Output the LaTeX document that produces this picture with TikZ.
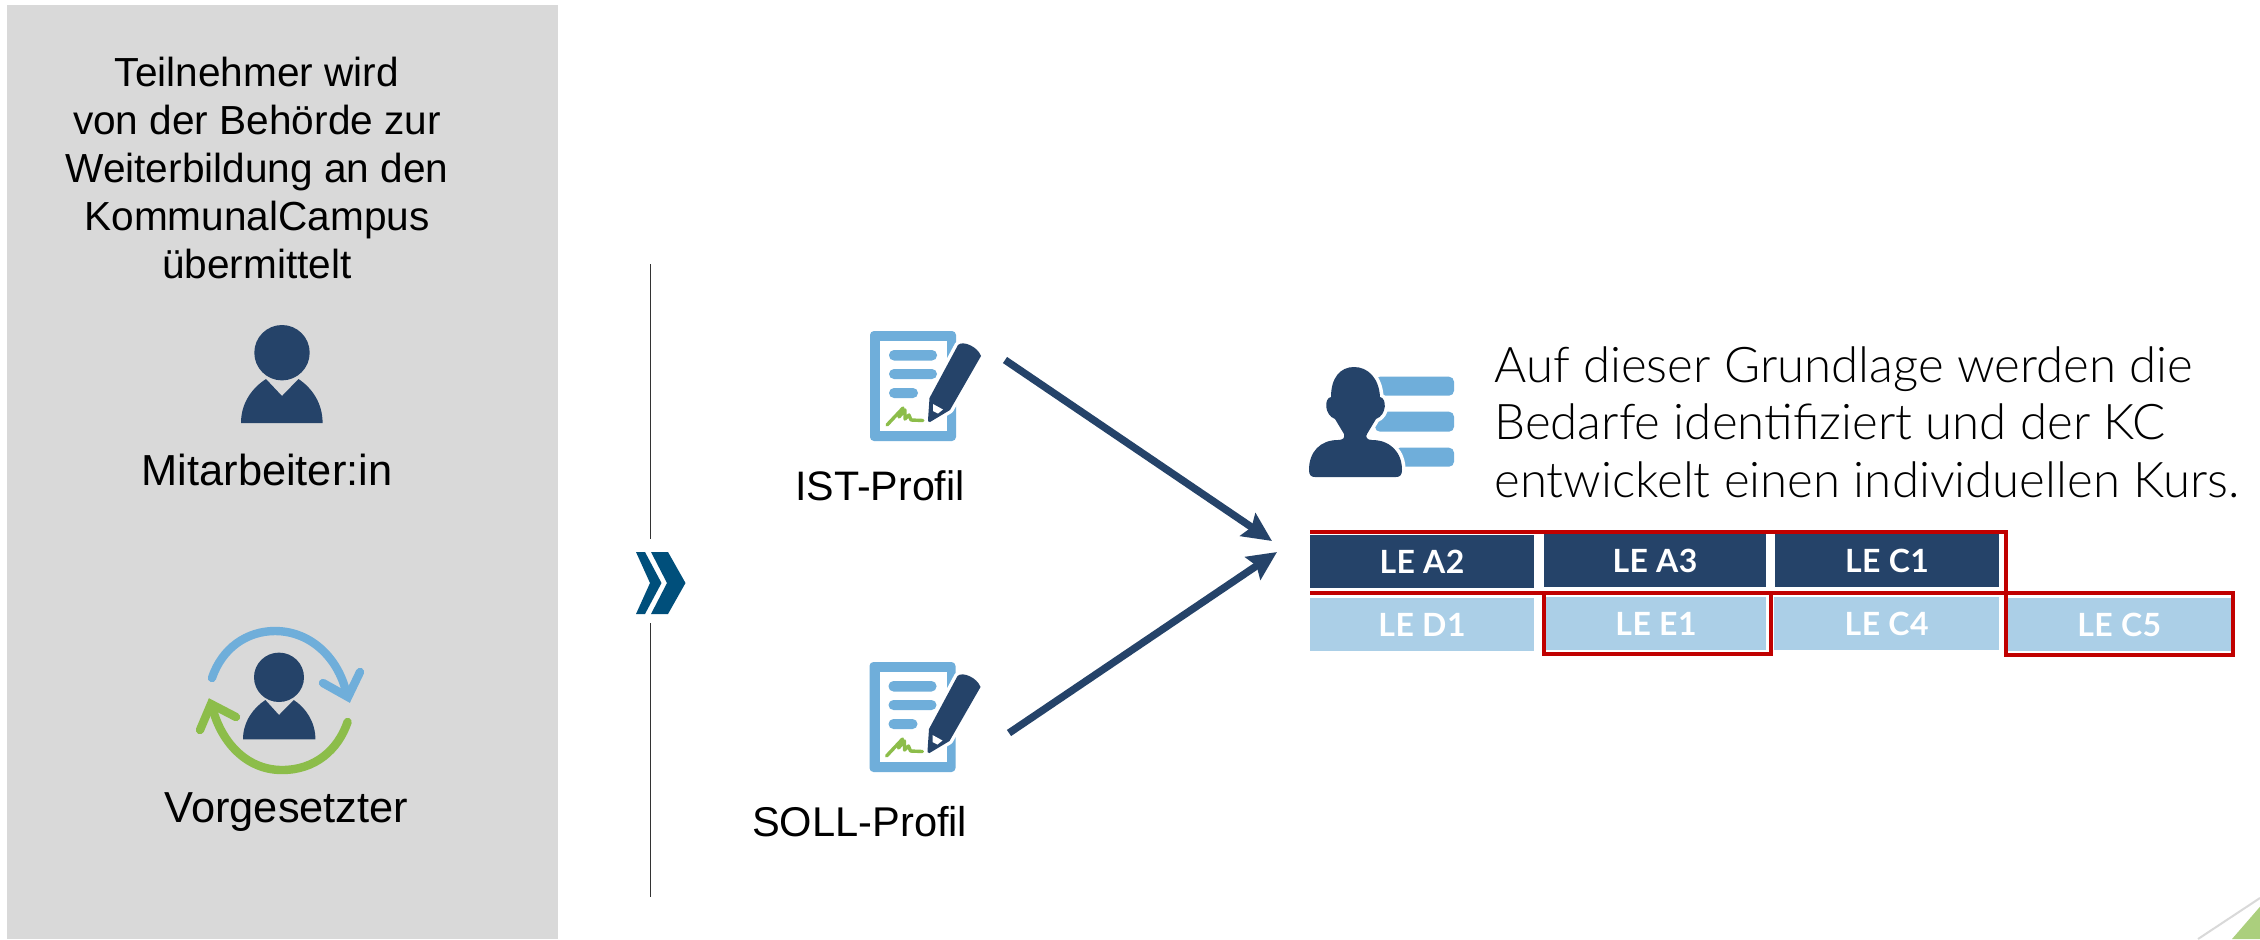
\documentclass[tikz,border=0pt]{standalone}
\usepackage{fontspec}
\usetikzlibrary{arrows.meta}
\setmainfont{Liberation Sans}
\newfontfamily\lightfont{Lato Light}
\newfontfamily\lefont{Lato}[UprightFont=* Bold,LetterSpace=1.5]
\definecolor{panelgrey}{HTML}{D9D9D9}
\definecolor{navy}{HTML}{254369}
\definecolor{skyblue}{HTML}{6FAEDA}
\definecolor{paleblue}{HTML}{ABCFE7}
\definecolor{leafgreen}{HTML}{8CBD4A}
\definecolor{paleleaf}{HTML}{ABCF7D}
\definecolor{chevblue}{HTML}{004F7B}
\definecolor{redline}{HTML}{C00000}
\tikzset{
  x=0.5pt,y=-0.5pt,
  bigtext/.style={font=\fontsize{20.3}{24}\selectfont,align=center,inner sep=0pt,anchor=base,text=black},
  sizedtext/.style={bigtext,font=\fontsize{#1}{24}\selectfont},
  sidetext/.style={font=\lightfont\fontsize{24.6}{28.75}\selectfont,align=left,inner sep=0pt,anchor=base west,text=black},
  lebox/.style={minimum width=#1*0.5pt,minimum height=26.5pt,inner sep=0pt,text height=12pt,text depth=0pt,text=white,font=\lefont\fontsize{16}{16}\selectfont},
  navybox/.style={lebox=#1,fill=navy},
  palebox/.style={lebox=#1,fill=paleblue},
  redframe/.style={draw=redline,line width=2pt},
  flowarrow/.style={draw=navy,line width=3.7pt,-{Stealth[length=14.5pt,width=13.5pt,inset=2.2pt]}},
  thinrule/.style={draw=black!80,line width=0.6pt},
  docicon/.pic={
    \fill[skyblue,rounded corners=2pt] (870,331) rectangle (956,441);
    \fill[white] (880,341) rectangle (947,431);
    \foreach \a/\b/\c in {350/360.5/937,369/379/937,388/398/918}
      \fill[skyblue,rounded corners=2.5pt] (889,\a) rectangle (\c,\b);
    \draw[leafgreen,line width=1.7pt,line cap=round,line join=round]
      (887,425) -- (903,408) -- (899,417) -- (905,410) -- (905,419) -- (909,415) -- (911,420) -- (923,420.5);
    \path[draw=white,line width=3.4pt,line join=round]
      (929.5,398) -- (958,345) .. controls (963,340) and (978,347) .. (981,356)
      -- (950,410) -- (930,422) .. controls (928,422) and (928,421) .. (928,420) -- cycle;
    \fill[navy] (929.5,398) -- (958,345) .. controls (963,340) and (978,347) .. (981,356)
      -- (950,410) -- (930,422) .. controls (928,422) and (928,421) .. (928,420) -- cycle;
    \fill[white] (933,404) -- (943,409.5) -- (938,413.5) -- (933,411) -- cycle;
  }
}
\begin{document}
\begin{tikzpicture}
\useasboundingbox (0,0) rectangle (2260,939);
\fill[white] (0,0) rectangle (2260,939);
\fill[panelgrey] (7,5) rectangle (558,939);

% left panel text
\node[bigtext] (intro) at (257,278) {Teilnehmer wird\\von der Behörde zur\\Weiterbildung an den\\KommunalCampus\\übermittelt};
\node[sizedtext=21.7] (mitarb) at (267,485) {Mitarbeiter:in};
\node[sizedtext=21.7] (vorg) at (286.5,822) {Vorgesetzter};

% employee icon
\fill[navy] (241,423) .. controls (241,403) and (252,388) .. (266,379) -- (282,396) -- (298.5,379)
  .. controls (312,388) and (322.6,403) .. (322.6,423) -- cycle;
\fill[navy] (282,352.7) circle [radius=27.7];

% supervisor icon
\fill[navy] (243,739.3) .. controls (243,722) and (253,708) .. (265.4,700) -- (279,715) -- (293.8,700)
  .. controls (306,708) and (315.4,722) .. (315.4,739.3) -- cycle;
\fill[navy] (279,677.3) ellipse [x radius=25,y radius=24.7];
\draw[skyblue,line width=4.2pt,line cap=round] (212,678) .. controls (222,648) and (247,631) .. (275,631) .. controls (312,631) and (340,660) .. (347,696);
\draw[skyblue,line width=4.2pt,line cap=round,line join=miter] (360,672) -- (348,697) -- (323,683);
\draw[leafgreen,line width=4.2pt,line cap=round] (347.6,722) .. controls (338,750) and (315,770) .. (282,770) .. controls (245,770) and (220,740) .. (212,706);
\draw[leafgreen,line width=4.2pt,line cap=round,line join=miter] (200,730) -- (211,704) -- (236,717);

% divider
\coordinate (ruleAtop) at (650.6,264);
\coordinate (ruleAbot) at (650.6,539);
\coordinate (ruleBtop) at (650.6,623);
\coordinate (ruleBbot) at (650.6,897);
\draw[thinrule] (ruleAtop) -- (ruleAbot);
\draw[thinrule] (ruleBtop) -- (ruleBbot);
\fill[chevblue] (636,552) -- (645,552) -- (661.5,583) -- (645,614) -- (636,614) -- (650,583) -- cycle;
\fill[chevblue] (651,552) -- (668,552) -- (685.5,583) -- (668,614) -- (651,614) -- (667,583) -- cycle;

% profile icons
\pic at (0,0) {docicon};
\pic at (-0.5,331) {docicon};
\node[sizedtext=20.6] (ist) at (880,500) {IST-Profil};
\node[sizedtext=20.8] (soll) at (859.7,836) {SOLL-Profil};

% arrows
\coordinate (istout) at (1005,360);
\coordinate (istin) at (1272,541);
\coordinate (sollout) at (1009,733);
\coordinate (sollin) at (1277,552);
\draw[flowarrow] (istout) -- (istin);
\draw[flowarrow] (sollout) -- (sollin);

% person with list icon
\fill[skyblue,rounded corners=2.5pt] (1375,376.7) rectangle (1454,395.7);
\fill[skyblue,rounded corners=2.5pt] (1375,411.7) rectangle (1454,431.7);
\fill[skyblue,rounded corners=2.5pt] (1395,447.7) rectangle (1454,466.7);
\def\headpath{(1354,367) .. controls (1340,367) and (1331,378) .. (1331,397)
  .. controls (1324,398) and (1324,415) .. (1335,419)
  -- (1344,434) .. controls (1345,438) and (1343,440) .. (1338,440)
  .. controls (1320,440) and (1309,452) .. (1309,470)
  .. controls (1309,475) and (1311,477) .. (1315,477) -- (1396,477)
  .. controls (1400,477) and (1402,475) .. (1402,470)
  .. controls (1402,452) and (1390,440) .. (1372,440)
  .. controls (1367,440) and (1365,437) .. (1367,434)
  -- (1376,419) .. controls (1387,415) and (1387,398) .. (1380,397)
  .. controls (1379,378) and (1368,367) .. (1354,367) -- cycle}
\path[draw=white,line width=3.6pt,line join=round] \headpath;
\fill[navy] \headpath;

% side text
\node[sidetext] (bedarf) at (1494,497) {Auf dieser Grundlage werden die\\Bedarfe identifiziert und der KC\\entwickelt einen individuellen Kurs.};

% red frames
\draw[redframe] (1310,532) -- (2006,532) -- (2006,592.5) -- (1310,592.5);

% learning unit boxes
\node[navybox=223.4] (a2) at (1422,561.7) {LE A2};
\node[navybox=222.8] (a3) at (1655,560.5) {LE A3};
\node[navybox=224] (c1) at (1887,560.5) {LE C1};
\node[palebox=223.4] (d1) at (1422,624) {LE D1};
\node[palebox=220.5] (e1) at (1656,623.5) {LE E1};
\node[palebox=224.5] (c4) at (1886.7,623) {LE C4};
\node[palebox=222.6] (c5) at (2119.3,624.8) {LE C5};
\draw[redframe] (1544.3,592.5) rectangle (1770.8,654);
\draw[redframe] (2006,592.5) rectangle (2233,654.5);

% corner decoration
\draw[panelgrey,line width=1pt] (2198,939) -- (2260,898);
\fill[paleleaf] (2232,939) -- (2260,906.7) -- (2260,939) -- cycle;
\end{tikzpicture}
\end{document}
